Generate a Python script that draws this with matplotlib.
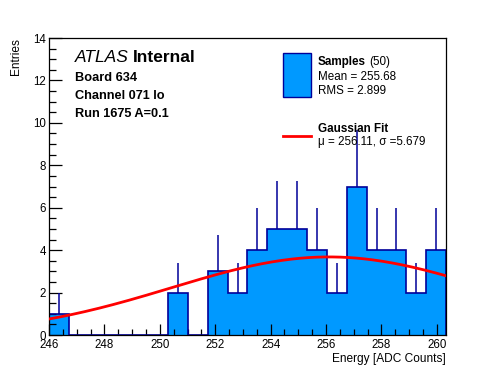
import numpy as np
import matplotlib
matplotlib.use('Agg')
import matplotlib.pyplot as plt
from matplotlib.patches import Rectangle
from matplotlib.lines import Line2D
from matplotlib.ticker import MultipleLocator

plt.rcParams['font.family'] = ['Liberation Sans', 'DejaVu Sans']

# histogram: 20 bins between 246 and 260.33
x_low, x_high, n_bins = 246.0, 260.33, 20
counts = [1, 0, 0, 0, 0, 0, 2, 0, 3, 2, 4, 5, 5, 4, 2, 7, 4, 4, 2, 4]

# gaussian fit
fit_mu = 256.11
fit_sigma = 5.679
fit_amp = 3.68

title_lines = ['Board 634', 'Channel 071 lo', 'Run 1675 A=0.1']
hist_label = ('Samples', '(50)', 'Mean = 255.68', 'RMS = 2.899')
fit_label = ('Gaussian Fit', '\u03bc = 256.11, \u03c3 =5.679')

fill_col = '#0099ff'
line_col = '#000099'

W, H = 496, 372
fig = plt.figure(figsize=(W / 100, H / 100), dpi=100)
ax = fig.add_axes([49 / W, 1 - 335 / H, 397 / W, 297 / H])

edges = np.linspace(x_low, x_high, n_bins + 1)
counts = np.array(counts, dtype=float)
centers = 0.5 * (edges[1:] + edges[:-1])

ax.stairs(counts, edges, fill=True, color=fill_col, zorder=1)
ax.stairs(counts, edges, color=line_col, linewidth=1.2, baseline=0, zorder=2)
nz = counts > 0
ax.vlines(centers[nz], counts[nz], counts[nz] + np.sqrt(counts[nz]),
          color=line_col, linewidth=1.1, zorder=2)

xf = np.linspace(x_low, x_high, 200)
yf = fit_amp * np.exp(-0.5 * ((xf - fit_mu) / fit_sigma) ** 2)
ax.plot(xf, yf, color='red', linewidth=2, zorder=3)

ax.set_xlim(x_low, x_high)
ax.set_ylim(0, 14)
ax.xaxis.set_major_locator(MultipleLocator(2))
ax.xaxis.set_minor_locator(MultipleLocator(0.5))
ax.yaxis.set_major_locator(MultipleLocator(2))
ax.yaxis.set_minor_locator(MultipleLocator(0.5))
ax.tick_params(which='both', direction='in', top=False, right=False,
               width=0.9, labelsize=8.3)
ax.tick_params(axis='x', which='major', length=8, pad=3)
ax.tick_params(axis='x', which='minor', length=4)
ax.tick_params(axis='y', which='major', length=9, pad=2)
ax.tick_params(axis='y', which='minor', length=5)
for s in ax.spines.values():
    s.set_linewidth(0.9)

ax.set_xlabel('Energy [ADC Counts]', fontsize=8.6, loc='right', labelpad=1)
ax.set_ylabel('Entries', fontsize=8.6, loc='top', labelpad=8)


def px(x, y):
    return x / W, 1 - y / H


# ATLAS label
t = fig.text(*px(75, 62), 'ATLAS', fontsize=12.5, style='italic', va='baseline')
fig.canvas.draw()
bb = t.get_window_extent()
fig.text(bb.x1 / W + 4 / W, 1 - 62 / H, 'Internal', fontsize=12.5,
         weight='bold', va='baseline')
for i, line in enumerate(title_lines):
    fig.text(*px(75, 81 + i * 18), line, fontsize=9.2, weight='bold',
             va='baseline')

# legend
fig.add_artist(Rectangle(px(283, 97), 28 / W, 44 / H, transform=fig.transFigure,
                         facecolor=fill_col, edgecolor=line_col, linewidth=1))
t = fig.text(*px(318, 65), hist_label[0], fontsize=8.4, weight='bold',
             va='baseline')
fig.canvas.draw()
bb = t.get_window_extent()
fig.text(bb.x1 / W + 3 / W, 1 - 65 / H, hist_label[1], fontsize=8.4,
         va='baseline')
fig.text(*px(318, 80.5), hist_label[2], fontsize=8.4, va='baseline')
fig.text(*px(318, 93.5), hist_label[3], fontsize=8.4, va='baseline')

fig.add_artist(Line2D([283 / W, 311 / W], [1 - 136 / H, 1 - 136 / H],
                      transform=fig.transFigure, color='red', linewidth=2))
fig.text(*px(318, 132.5), fit_label[0], fontsize=8.4, weight='bold',
         va='baseline')
fig.text(*px(318, 145.5), fit_label[1], fontsize=8.4, va='baseline')

fig.savefig('out.png', dpi=100)
